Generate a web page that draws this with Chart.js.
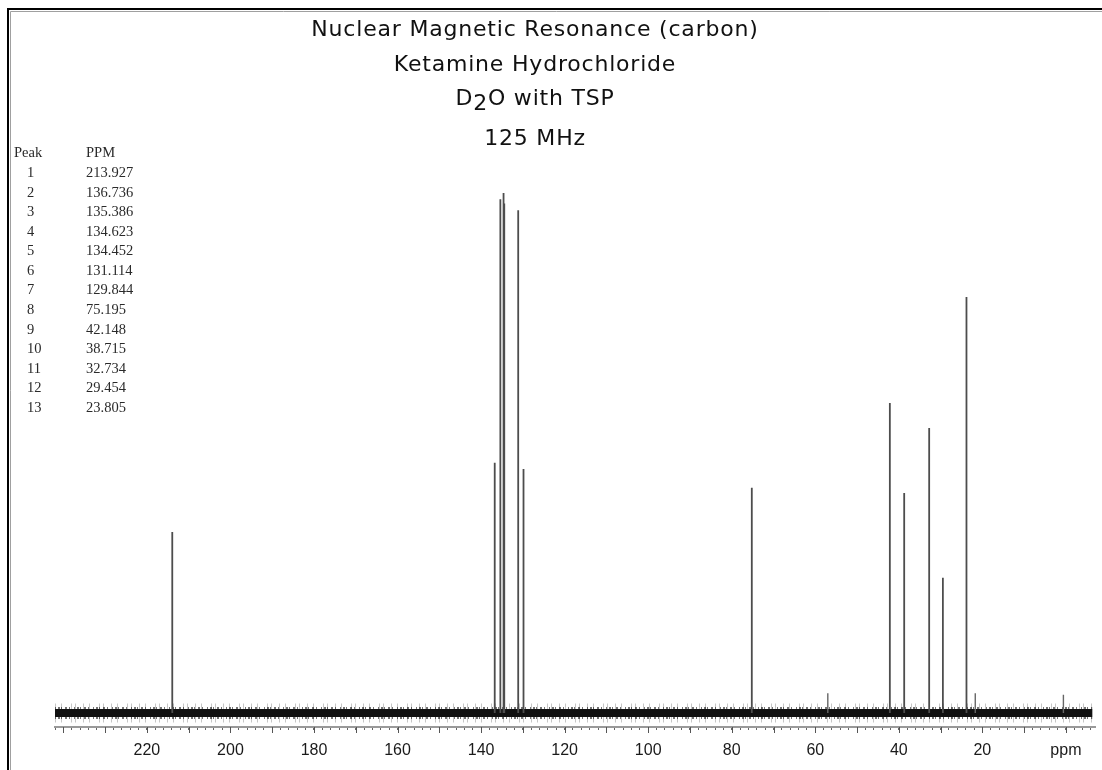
<!DOCTYPE html>
<html>
<head>
<meta charset="utf-8">
<title>13C NMR – Ketamine Hydrochloride</title>
<script src="https://cdn.jsdelivr.net/npm/chart.js@4.4.1/dist/chart.umd.min.js"></script>
<style>
  html, body { margin: 0; padding: 0; background: #fff; }
  #wrap { position: relative; width: 1102px; height: 770px; }
</style>
</head>
<body>
<div id="wrap"><canvas id="nmr" width="1102" height="770"></canvas></div>
<script>
// Heading lines above the spectrum (the solvent line is drawn with a lowered "2")
const titleLines = ['Nuclear Magnetic Resonance (carbon)', 'Ketamine Hydrochloride', ['D', '2', 'O with TSP'], '125 MHz'];

// Peak list (chemical shift in ppm) and relative stick heights
const peakNumbers   = [1, 2, 3, 4, 5, 6, 7, 8, 9, 10, 11, 12, 13];
const peakPPM       = [213.927, 136.736, 135.386, 134.623, 134.452, 131.114, 129.844, 75.195, 42.148, 38.715, 32.734, 29.454, 23.805];
const peakIntensity = [34.8, 48.1, 98.8, 100, 98.0, 96.7, 46.9, 43.3, 59.6, 42.3, 54.8, 26.0, 80.0];

// Small unlisted signals sitting just above the noise
const minorPPM       = [57.0, 21.7, 0.6];
const minorIntensity = [3.8, 3.8, 3.5];

// Extent of the recorded trace and of the ppm axis
const traceStart = 242, traceEnd = -6.3;
const axisMax = 242, axisMin = -7;
const labelMax = 220, labelStep = 20, majorStep = 10, minorStep = 2;

function sticks(ppm, heights) {
  const pts = [];
  ppm.forEach((p, i) => {
    pts.push({ x: p, y: 0 }, { x: p, y: heights[i] }, { x: p, y: null });
  });
  return pts;
}
const baseline = [{ x: traceStart, y: 0 }, { x: traceEnd, y: 0 }];

const framePlugin = {
  id: 'frame',
  beforeDraw(chart) {
    const c = chart.ctx;
    c.save();
    c.fillStyle = '#fff';
    c.fillRect(0, 0, chart.width, chart.height);
    c.strokeStyle = '#000';
    c.lineWidth = 2;
    c.beginPath();
    c.moveTo(8, chart.height);
    c.lineTo(8, 9);
    c.lineTo(chart.width, 9);
    c.stroke();
    c.strokeStyle = '#a0a0a0';
    c.lineWidth = 1;
    c.beginPath();
    c.moveTo(10.5, chart.height);
    c.lineTo(10.5, 11.5);
    c.lineTo(chart.width, 11.5);
    c.stroke();
    c.restore();
  },
  afterDraw(chart) {
    const c = chart.ctx;
    const xs = chart.scales.x;
    c.save();
    // longer marks every 10 ppm on the ruler
    c.strokeStyle = '#555';
    c.lineWidth = 1;
    for (let v = Math.ceil(axisMin / majorStep) * majorStep; v <= axisMax; v += majorStep) {
      const px = Math.round(xs.getPixelForValue(v)) + 0.5;
      c.beginPath();
      c.moveTo(px, xs.top);
      c.lineTo(px, xs.top + 6);
      c.stroke();
    }
    // heading
    c.fillStyle = '#111';
    c.textBaseline = 'alphabetic';
    c.font = '22px "DejaVu Sans"';
    if ('letterSpacing' in c) c.letterSpacing = '0.8px';
    const cx = 535;
    const baselines = [36, 71, 105, 145];
    titleLines.forEach((t, i) => {
      if (Array.isArray(t)) {
        const w = t.reduce((s, part) => s + c.measureText(part).width, 0);
        let x = cx - w / 2;
        c.textAlign = 'left';
        t.forEach((part, k) => {
          c.fillText(part, x, baselines[i] + (k === 1 ? 5 : 0));
          x += c.measureText(part).width;
        });
      } else {
        c.textAlign = 'center';
        c.fillText(t, cx, baselines[i]);
      }
    });
    if ('letterSpacing' in c) c.letterSpacing = '0px';
    // peak table
    c.fillStyle = '#2a2a2a';
    c.textAlign = 'left';
    c.font = '14.5px "Liberation Serif"';
    c.fillText('Peak', 14, 157);
    c.fillText('PPM', 86, 157);
    peakNumbers.forEach((n, i) => {
      const y = 177 + i * 19.58;
      c.fillText(String(n), 27, y);
      c.fillText(peakPPM[i].toFixed(3), 86, y);
    });
    c.restore();
  }
};

new Chart(document.getElementById('nmr'), {
  type: 'scatter',
  data: {
    datasets: [
      { label: 'Peaks', data: sticks(peakPPM, peakIntensity), showLine: true, spanGaps: false,
        borderColor: '#4d4d4d', borderWidth: 1.8, pointRadius: 0, tension: 0 },
      { label: 'Minor signals', data: sticks(minorPPM, minorIntensity), showLine: true, spanGaps: false,
        borderColor: '#666', borderWidth: 1.4, pointRadius: 0, tension: 0 },
      { label: 'Baseline core', data: baseline, showLine: true,
        borderColor: '#111', borderWidth: 8, pointRadius: 0 },
      { label: 'Baseline noise', data: baseline, showLine: true,
        borderColor: 'rgba(0,0,0,0.55)', borderWidth: 12, borderDash: [1, 2, 2, 1, 1, 3, 2, 2, 1, 4], pointRadius: 0 },
      { label: 'Baseline spikes', data: baseline, showLine: true,
        borderColor: 'rgba(0,0,0,0.22)', borderWidth: 19, borderDash: [1, 5, 1, 9, 1, 3, 1, 7], pointRadius: 0 }
    ]
  },
  options: {
    responsive: false,
    devicePixelRatio: 1,
    animation: false,
    events: [],
    layout: { padding: { left: 55, right: 5, top: 180, bottom: 0 } },
    plugins: { legend: { display: false }, tooltip: { enabled: false }, title: { display: false } },
    scales: {
      x: {
        type: 'linear',
        reverse: true,
        min: axisMin,
        max: axisMax,
        afterFit(scale) { scale.height = 43; },
        border: { display: true, color: '#999', width: 2 },
        grid: { drawOnChartArea: false, drawTicks: true, tickLength: 3, tickColor: '#666', tickWidth: 1 },
        ticks: {
          stepSize: minorStep,
          includeBounds: false,
          autoSkip: false,
          maxRotation: 0,
          padding: 11,
          color: '#1a1a1a',
          font: { family: '"Liberation Sans", Arial, sans-serif', size: 16 },
          callback(v) {
            if (v === 0) return 'ppm';
            return (v > 0 && v <= labelMax && v % labelStep === 0) ? String(v) : '';
          }
        }
      },
      y: { display: false, min: -2.7, max: 102.5 }
    }
  },
  plugins: [framePlugin]
});
</script>
</body>
</html>
